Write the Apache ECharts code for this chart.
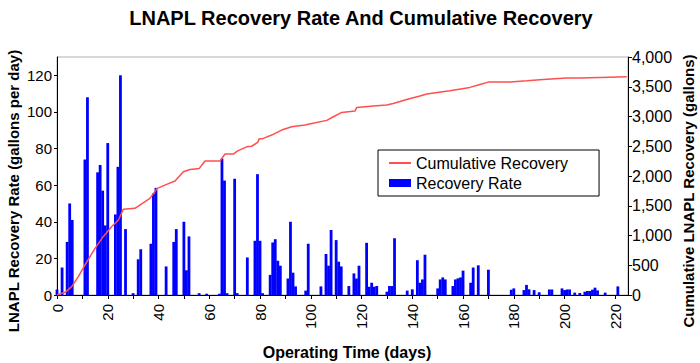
<!DOCTYPE html>
<html>
<head>
<meta charset="utf-8">
<script src="https://cdn.jsdelivr.net/npm/echarts@6/dist/echarts.min.js"></script>
<style>
html,body{margin:0;padding:0;background:#fff;}
#chart{width:700px;height:363px;}
</style>
</head>
<body>
<div id="chart"></div>
<script>
// Recovery rate (gallons per day) by operating day
const rateDays = [0,2,4,5,6,11,12,16,17,18,19,20,23,24,25,27,30,32,33,37,38,39,43,46,47,50,51,52,56,59,64,65,66,67,70,71,75,78,79,80,81,84,85,86,87,88,91,92,93,94,98,99,104,106,107,108,110,111,112,115,117,118,119,122,123,124,125,126,130,131,132,133,138,140,142,143,144,145,150,151,152,153,156,157,158,159,160,163,164,166,170,179,180,184,185,186,188,190,194,195,199,200,201,202,204,206,208,209,210,211,212,213,216,221];
const rateValues = [3,15,29,50,41,74,108,67,71,57,38,83,44,70,120,36,1,19.5,25,28,55.5,58.5,15.6,29,36,40,13.5,32,1,0.7,0.7,74.5,62.5,1,63.5,1,20.5,29.6,66,29.6,1,11,28.7,30.5,18.7,16,9,40,12.2,4.7,2.4,28,4.7,22.4,16,35.5,30,18.2,15.6,4.9,11.8,9,16,28.5,4.5,6.7,4.5,4.9,1.8,4.9,4.9,31,2.4,3.1,19,6.7,8.5,22,3.6,8.5,9.6,8.5,4.9,8.5,9.1,9.6,13.3,6.7,15,16.2,13.8,2.9,3.6,2.7,5.5,3.1,2.7,1.5,3,3,3.6,2.7,3,3,1.3,1.1,1.8,2.2,2.2,2.9,4,2.5,1.3,4.7];

// Cumulative recovery (gallons)
const cumDays = [0,3.2,5.8,8.4,11,13,15,18.2,21.5,24.2,26.1,30.7,34.7,36.6,39.5,43.2,46.5,49.8,52.4,56.1,58.3,64.2,66.2,69.5,71,74.7,76.7,79.1,79.6,81.3,84.6,88.5,92.5,97.7,100.4,106.3,108.9,112.2,117.4,118.1,124.6,129.9,132.5,137.8,143,145.7,154.8,162.7,166.7,169.9,178.5,185.1,191.6,200.8,206.1,214,224.5];
const cumGallons = [0,45,140,308,504,644,784,980,1148,1260,1440,1456,1568,1624,1792,1860,1915,2072,2110,2128,2251,2251,2369,2369,2419,2490,2500,2565,2620,2632,2688,2772,2828,2856,2884,2935,2996,3069,3091,3153,3175,3192,3220,3287,3343,3377,3432,3489,3539,3578,3578,3600,3623,3645,3645,3657,3668];

// Tick labels
const xTickLabels = [0,20,40,60,80,100,120,140,160,180,200,220];
const xTickMarks = [0,10,20,30,40,50,60,70,80,90,100,110,120,130,140,150,160,170,180,190,200,210,220];
const leftTicks = [0,20,40,60,80,100,120];
const rightTicks = [0,500,1000,1500,2000,2500,3000,3500,4000];

const FONT = '"Liberation Sans", Arial, sans-serif';

const chart = echarts.init(document.getElementById('chart'), null, {renderer: 'svg'});
chart.setOption({
  animation: false,
  backgroundColor: '#fff',
  textStyle: {fontFamily: FONT, color: '#000'},
  title: {
    text: 'LNAPL Recovery Rate And Cumulative Recovery',
    left: 356, top: 3, textAlign: 'center',
    textStyle: {fontFamily: FONT, fontSize: 20, fontWeight: 'bold', color: '#000'}
  },
  grid: {left: 57, right: 72, top: 57, bottom: 68, show: true, borderColor: '#b0b0b0', borderWidth: 1, backgroundColor: 'transparent'},
  legend: {
    orient: 'vertical', left: 378, top: 150,
    padding: [5, 31, 5, 10], itemGap: 4, itemWidth: 22, itemHeight: 8,
    backgroundColor: '#fff', borderColor: '#000', borderWidth: 1,
    textStyle: {fontFamily: FONT, fontSize: 16, color: '#000'},
    data: [
      {name: 'Cumulative Recovery', itemStyle: {color: 'rgba(0,0,0,0)', borderWidth: 0, opacity: 0}},
      {name: 'Recovery Rate', icon: 'rect'}
    ]
  },
  xAxis: {
    type: 'value', min: 0, max: 225,
    axisLine: {show: true, lineStyle: {color: '#000', width: 1}},
    axisTick: {show: true, length: 4, customValues: xTickMarks, lineStyle: {color: '#000'}},
    axisLabel: {rotate: 90, margin: 9, fontSize: 15, fontFamily: FONT, color: '#000', customValues: xTickLabels, padding: [12, 0, 0, 0]},
    splitLine: {show: false}
  },
  yAxis: [
    {
      type: 'value', min: 0, max: 130, position: 'left',
      axisLine: {show: true, lineStyle: {color: '#000', width: 1}},
      axisTick: {show: true, length: 3, customValues: leftTicks, lineStyle: {color: '#000'}},
      axisLabel: {margin: 5, fontSize: 15, fontFamily: FONT, color: '#000', customValues: leftTicks},
      splitLine: {show: false}
    },
    {
      type: 'value', min: 0, max: 4000, position: 'right',
      axisLine: {show: true, lineStyle: {color: '#000', width: 1}},
      axisTick: {show: true, length: 4, customValues: rightTicks, lineStyle: {color: '#000'}},
      axisLabel: {margin: 4, fontSize: 16, fontFamily: FONT, color: '#000', customValues: rightTicks,
        formatter: v => Number(v).toLocaleString('en-US')},
      splitLine: {show: false}
    }
  ],
  graphic: [
    {type: 'text', x: 13, y: 191, rotation: Math.PI / 2,
      style: {text: 'LNAPL Recovery Rate (gallons per day)', font: 'bold 15px ' + FONT, fill: '#000', align: 'center', verticalAlign: 'middle'}},
    {type: 'text', x: 688, y: 191, rotation: Math.PI / 2,
      style: {text: 'Cumulative LNAPL Recovery (gallons)', font: 'bold 15px ' + FONT, fill: '#000', align: 'center', verticalAlign: 'middle'}},
    {type: 'text', x: 347, y: 352,
      style: {text: 'Operating Time (days)', font: 'bold 16px ' + FONT, fill: '#000', align: 'center', verticalAlign: 'middle'}}
  ],
  series: [
    {
      name: 'Cumulative Recovery', type: 'line', yAxisIndex: 1, symbol: 'none', z: 3,
      lineStyle: {color: '#ff4f4f', width: 1.5}, itemStyle: {color: '#ff4f4f'},
      data: cumDays.map((d, i) => [d, cumGallons[i]])
    },
    {
      name: 'Recovery Rate', type: 'bar', yAxisIndex: 0, barWidth: 2.8, z: 2,
      itemStyle: {color: '#0000ff'},
      data: rateDays.map((d, i) => [d, rateValues[i]])
    }
  ]
});
</script>
</body>
</html>
